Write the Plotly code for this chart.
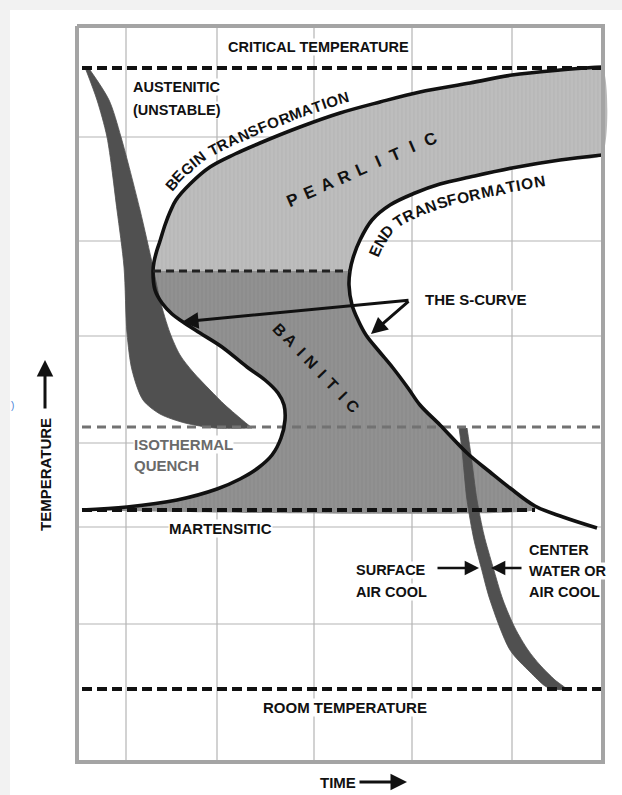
import numpy as np
import plotly.graph_objects as go

# ---------------- canvas / frame (time -> x, temperature -> y, screen units) -------------
W, H = 622, 795
BOX_X = [77, 603]
BOX_Y = [26, 762]
GRID_X = [126, 217, 314, 412, 512]
GRID_Y = [137, 241, 336, 443, 527, 624]

# reference temperatures (horizontal dashed lines)
CRITICAL_T = 68
ROOM_T = 689
ISOTHERMAL_T = 427
MARTENSITE_T = 510
PB_SPLIT_T = 271

# ---------------- S-curve (TTT diagram) ----------------
# begin transformation, upper branch (from nose to long times)
BEGIN_UPPER_X = [153, 154, 157, 160, 165, 170, 176, 190, 210, 235, 260, 300, 340, 380, 420, 470, 512, 560, 602]
BEGIN_UPPER_Y = [271, 262, 250, 241, 225, 212, 200, 184, 167, 154, 143, 127, 113, 102, 92, 83, 75, 70, 67]
# begin transformation, lower branch (from nose down to martensite start)
BEGIN_LOWER_X = [153, 155, 162, 172, 183, 200, 222, 247, 265, 278, 284, 285, 281, 272, 258, 240, 217, 177, 127, 82]
BEGIN_LOWER_Y = [271, 290, 303, 314, 322, 333, 347, 367, 380, 393, 405, 420, 438, 455, 468, 479, 489, 500, 507, 510]
# end transformation, upper branch (from nose to long times)
END_UPPER_X = [350, 353, 360, 372, 390, 415, 440, 470, 512, 560, 602]
END_UPPER_Y = [271, 258, 240, 220, 205, 193, 184, 177, 168, 160, 155]
# end transformation, lower branch
END_LOWER_X = [350, 349, 352, 358, 366, 378, 393, 408, 420, 440, 467, 490, 510, 535, 563, 597]
END_LOWER_Y = [271, 285, 305, 320, 335, 350, 368, 388, 405, 425, 453, 472, 488, 506, 517, 528]

# ---------------- cooling curves ----------------
QUENCH_LEFT_X = [86, 97, 107, 117, 124, 127, 132, 143, 160, 185, 215, 252]
QUENCH_LEFT_Y = [70, 100, 137, 210, 267, 333, 370, 400, 414, 423, 428, 428]
QUENCH_RIGHT_X = [90, 109, 121, 140, 153, 160, 170, 180, 193, 210, 225, 240, 252]
QUENCH_RIGHT_Y = [70, 100, 137, 210, 267, 300, 333, 355, 372, 390, 405, 418, 428]

AIRCOOL_LEFT_X = [459, 462, 467, 474, 481, 490, 510, 530, 545, 552]
AIRCOOL_LEFT_Y = [428, 450, 500, 540, 567, 600, 650, 672, 686, 689]
AIRCOOL_RIGHT_X = [467, 471, 477, 484, 493, 503, 515, 528, 540, 555, 566]
AIRCOOL_RIGHT_Y = [428, 455, 500, 535, 567, 600, 628, 650, 665, 680, 689]

FONT = "Liberation Sans, Arial, Helvetica, sans-serif"
INK = "#111111"

fig = go.Figure()


def seg_trace(xs, ys, color, width, dash="solid", shape="linear"):
    return go.Scatter(x=xs, y=ys, mode="lines", line=dict(color=color, width=width, dash=dash, shape=shape),
                      hoverinfo="skip", showlegend=False)


# grid
gx, gy = [], []
for v in GRID_X:
    gx += [v, v, None]
    gy += [BOX_Y[0], BOX_Y[1], None]
for v in GRID_Y:
    gx += [BOX_X[0], BOX_X[1], None]
    gy += [v, v, None]
fig.add_trace(seg_trace(gx, gy, "#b4b4b4", 1.2))

# pearlite region
pear_x = BEGIN_UPPER_X[::-1] + END_UPPER_X + [BEGIN_UPPER_X[-1]]
pear_y = BEGIN_UPPER_Y[::-1] + END_UPPER_Y + [BEGIN_UPPER_Y[-1]]
fig.add_trace(go.Scatter(x=pear_x, y=pear_y, mode="lines", fill="toself",
                         fillcolor="#bababa", line=dict(width=0, shape="spline", smoothing=0.6),
                         fillpattern=dict(shape="|", fgcolor="#a9a9a9", bgcolor="#bdbdbd", size=4, solidity=0.25),
                         hoverinfo="skip", showlegend=False))
# bainite region
bain_x = END_LOWER_X[:14] + [END_LOWER_X[13]] + BEGIN_LOWER_X[::-1]
bain_y = END_LOWER_Y[:14] + [MARTENSITE_T] + BEGIN_LOWER_Y[::-1]
fig.add_trace(go.Scatter(x=bain_x, y=bain_y, mode="lines", fill="toself",
                         fillcolor="#8e8e8e", line=dict(width=0, shape="spline", smoothing=0.6),
                         fillpattern=dict(shape="|", fgcolor="#7e7e7e", bgcolor="#919191", size=4, solidity=0.25),
                         hoverinfo="skip", showlegend=False))

# cooling bands
for lx, ly, rx, ry in [(QUENCH_LEFT_X, QUENCH_LEFT_Y, QUENCH_RIGHT_X, QUENCH_RIGHT_Y),
                       (AIRCOOL_LEFT_X, AIRCOOL_LEFT_Y, AIRCOOL_RIGHT_X, AIRCOOL_RIGHT_Y)]:
    fig.add_trace(go.Scatter(x=lx + rx[::-1], y=ly + ry[::-1], mode="lines", fill="toself",
                             fillcolor="#505050", line=dict(width=0.8, color="#505050", shape="spline", smoothing=0.8),
                             hoverinfo="skip", showlegend=False))

# isothermal line (gray)
fig.add_trace(seg_trace([82, 600], [ISOTHERMAL_T] * 2, "#727272", 3, dash="9px,6px"))

# S-curve lines
fig.add_trace(seg_trace(BEGIN_UPPER_X[::-1] + BEGIN_LOWER_X[1:], BEGIN_UPPER_Y[::-1] + BEGIN_LOWER_Y[1:],
                        INK, 3.6, shape="spline"))
fig.add_trace(seg_trace(END_UPPER_X[::-1] + END_LOWER_X[1:], END_UPPER_Y[::-1] + END_LOWER_Y[1:],
                        INK, 3.6, shape="spline"))

# dashed reference lines
fig.add_trace(seg_trace([82, 601], [CRITICAL_T] * 2, INK, 4, dash="10px,5px"))
fig.add_trace(seg_trace([82, 601], [ROOM_T] * 2, INK, 4, dash="10px,5px"))
fig.add_trace(seg_trace([82, END_LOWER_X[13]], [MARTENSITE_T] * 2, INK, 4, dash="10px,5px"))
fig.add_trace(seg_trace([BEGIN_UPPER_X[0], END_UPPER_X[0]], [PB_SPLIT_T] * 2, "#222222", 3, dash="8px,5px"))

# frame
fig.add_trace(seg_trace([BOX_X[0], BOX_X[1], BOX_X[1], BOX_X[0], BOX_X[0]],
                        [BOX_Y[0], BOX_Y[0], BOX_Y[1], BOX_Y[1], BOX_Y[0]], "#a4a4a4", 4))

# ---------------- text ----------------
anns = []


def label(x, y, text, size=14.5, color=INK, xanchor="left", bg="white", angle=0):
    d = dict(x=x, y=y, xref="x", yref="y", text=f"<b>{text}</b>", showarrow=False,
             font=dict(family=FONT, size=size, color=color), xanchor=xanchor, yanchor="middle",
             textangle=angle, borderpad=0)
    if bg:
        d["bgcolor"] = bg
    return d


def arrow(xt, yt, xh, yh, width=2.6, size=1.1):
    return dict(x=xh, y=yh, ax=xt, ay=yt, xref="x", yref="y", axref="x", ayref="y", text="",
                showarrow=True, arrowhead=2, arrowsize=size, arrowwidth=width, arrowcolor=INK)


AW = {"A": .722, "B": .722, "C": .722, "D": .722, "E": .667, "F": .611, "G": .778, "H": .722, "I": .278,
      "L": .611, "M": .833, "N": .722, "O": .778, "P": .667, "R": .722, "S": .667, "T": .611, "U": .722,
      " ": .3}


def text_on_path(text, xs, ys, start, offset, size, track=0.0):
    """Place characters along a path offset (left of travel: +) from the curve."""
    p = np.column_stack([xs, ys]).astype(float)
    s = np.concatenate([[0], np.cumsum(np.hypot(*np.diff(p, axis=0).T))])
    ts = np.linspace(0, s[-1], 800)
    px, py = np.interp(ts, s, p[:, 0]), np.interp(ts, s, p[:, 1])
    ax_, ay_ = np.interp(ts - 8, s, p[:, 0]), np.interp(ts - 8, s, p[:, 1])
    bx_, by_ = np.interp(ts + 8, s, p[:, 0]), np.interp(ts + 8, s, p[:, 1])
    tx, ty = bx_ - ax_, by_ - ay_
    nn = np.hypot(tx, ty)
    tx, ty = tx / nn, ty / nn
    ox, oy = px + ty * offset, py - tx * offset
    so = np.concatenate([[0], np.cumsum(np.hypot(np.diff(ox), np.diff(oy)))])
    t = so[np.argmin((px - start[0]) ** 2 + (py - start[1]) ** 2)]
    out = []
    for ch in text:
        w = AW.get(ch, .65) * size + track
        c = t + w / 2
        X, Y = np.interp(c, so, ox), np.interp(c, so, oy)
        x0, y0 = np.interp(c - 6, so, ox), np.interp(c - 6, so, oy)
        x1, y1 = np.interp(c + 6, so, ox), np.interp(c + 6, so, oy)
        if ch != " ":
            out.append(label(float(X), float(Y), ch, size=size, xanchor="center", bg=None,
                             angle=float(np.degrees(np.arctan2(y1 - y0, x1 - x0)))))
        t += w
    return out


anns.append(label(318, 47, "CRITICAL TEMPERATURE", xanchor="center"))
anns.append(label(132, 87, "AUSTENITIC"))
anns.append(label(132, 110, "(UNSTABLE)"))
anns += text_on_path("BEGIN TRANSFORMATION", BEGIN_UPPER_X, BEGIN_UPPER_Y, (179, 197), 14, 15, track=0.6)
anns += text_on_path("END TRANSFORMATION", END_UPPER_X, END_UPPER_Y, (356, 250), -18, 15.5, track=0.7)

# PEARLITIC / BAINITIC letter-spaced
for i, ch in enumerate("PEARLITIC"):
    f = i / 8
    anns.append(label(292 + f * 138, 200 - f * 61, ch, size=17, xanchor="center", bg=None, angle=-23.5))
for i, ch in enumerate("BAINITIC"):
    f = i / 7
    anns.append(label(280 + f * 73, 330 + f * 76, ch, size=16, xanchor="center", bg=None, angle=46))

anns.append(label(475, 299, "THE S-CURVE", size=15, xanchor="center"))
anns.append(arrow(410, 300, 182, 322, width=3))
anns.append(arrow(410, 300, 371, 334, width=3))

anns.append(label(133, 444, "ISOTHERMAL", size=15, color="#6a6a6a"))
anns.append(label(133, 465, "QUENCH", size=15, color="#6a6a6a"))
anns.append(label(168, 528, "MARTENSITIC", size=15))

anns.append(label(355, 570, "SURFACE"))
anns.append(label(355, 592, "AIR COOL"))
anns.append(arrow(436, 568, 479, 568))
anns.append(label(528, 550, "CENTER"))
anns.append(label(528, 571, "WATER OR"))
anns.append(label(528, 592, "AIR COOL"))
anns.append(arrow(523, 568, 491, 568))

anns.append(label(345, 707, "ROOM TEMPERATURE", size=15, xanchor="center"))

anns.append(label(338, 782, "TIME", size=15, xanchor="center", bg=None))
anns.append(arrow(358, 782, 407, 782, width=3))
anns.append(label(45, 475, "TEMPERATURE", size=15, xanchor="center", bg=None, angle=-90))
anns.append(arrow(45, 410, 45, 360, width=3))
anns.append(dict(x=12, y=405, xref="x", yref="y", text=")", showarrow=False,
                 font=dict(family=FONT, size=10, color="#4a7fd6")))

fig.update_layout(
    width=W, height=H, margin=dict(l=0, r=0, t=0, b=0),
    paper_bgcolor="white", plot_bgcolor="white",
    xaxis=dict(range=[0, W], visible=False, fixedrange=True),
    yaxis=dict(range=[H, 0], visible=False, fixedrange=True),
    annotations=anns,
    shapes=[dict(type="rect", xref="x", yref="y", x0=0, x1=W, y0=0, y1=10, fillcolor="#f2f2f2",
                 line=dict(width=0), layer="below"),
            dict(type="rect", xref="x", yref="y", x0=0, x1=10, y0=0, y1=H, fillcolor="#f2f2f2",
                 line=dict(width=0), layer="below")],
    showlegend=False,
)

fig.write_html("out.html", config={"displayModeBar": False},
               post_script="document.body.style.margin='0';document.body.style.overflow='hidden';")
